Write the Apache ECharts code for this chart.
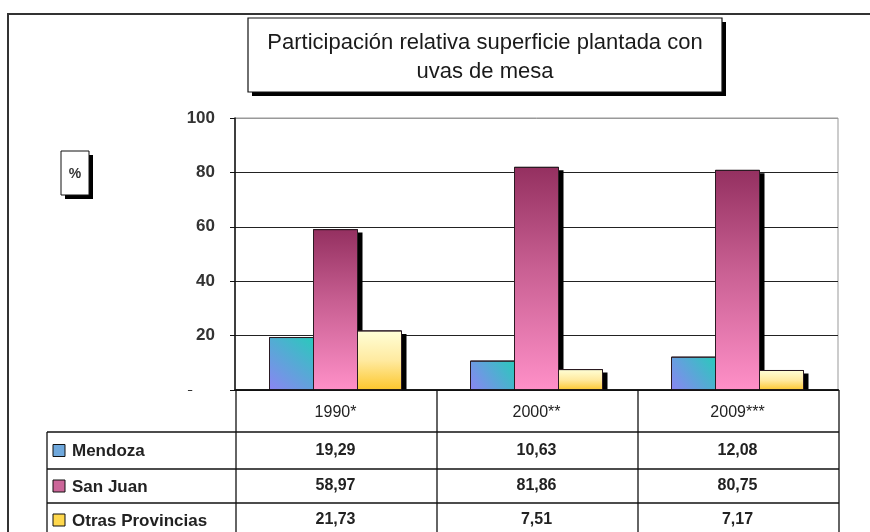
<!DOCTYPE html>
<html>
<head>
    <meta charset="UTF-8">
    <title>Participación relativa superficie plantada con uvas de mesa</title>
    <script src="https://cdn.jsdelivr.net/npm/echarts@6/dist/echarts.min.js"></script>
    <style>
        html, body { margin: 0; padding: 0; background: #fff; }
        #main { width: 870px; height: 532px; }
    </style>
</head>
<body>
<div id="main"></div>
<script type="text/javascript">
    // datos
    var years = ['1990*', '2000**', '2009***'];
    var seriesNames = ['Mendoza', 'San Juan', 'Otras Provincias'];
    var mendoza = [19.29, 10.63, 12.08];
    var sanJuan = [58.97, 81.86, 80.75];
    var otras = [21.73, 7.51, 7.17];
    var yTicks = [0, 20, 40, 60, 80, 100];

    var values = [mendoza, sanJuan, otras];
    var swatch = ['#6fa8dc', '#cc6699', '#ffd84d'];
    var fills = [
        new echarts.graphic.LinearGradient(1, 0, 0, 1, [
            {offset: 0, color: '#28cabb'}, {offset: 1, color: '#8c84f4'}]),
        new echarts.graphic.LinearGradient(0, 0, 0, 1, [
            {offset: 0, color: '#943060'}, {offset: 0.45, color: '#c85f92'}, {offset: 1, color: '#ff90c8'}]),
        new echarts.graphic.LinearGradient(0, 0, 0, 1, [
            {offset: 0, color: '#ffffd8'}, {offset: 0.5, color: '#ffeaa0'}, {offset: 1, color: '#fcc62a'}])
    ];

    var font = '"Liberation Sans", Arial, sans-serif';
    var barW = 44;
    var chart = echarts.init(document.getElementById('main'));

    // barra con sombra negra desplazada
    function barRenderer(idx) {
        return function (params, api) {
            var cat = api.value(0);
            var top = api.coord([cat, api.value(1)]);
            var base = api.coord([cat, 0]);
            var x = top[0] + (idx - 1.5) * barW;
            var h = base[1] - top[1];
            return {
                type: 'group',
                children: [
                    {type: 'rect', shape: {x: x + 5, y: top[1] + 3, width: barW, height: h - 3},
                        style: {fill: '#000'}},
                    {type: 'rect', shape: {x: x, y: top[1], width: barW, height: h},
                        style: {fill: fills[idx], stroke: '#2a1a22', lineWidth: 1}}
                ]
            };
        };
    }

    var series = [];
    for (var i = 0; i < seriesNames.length; i++) {
        var d = [];
        for (var j = 0; j < years.length; j++) d.push([j, values[i][j]]);
        series.push({
            name: seriesNames[i],
            type: 'custom',
            renderItem: barRenderer(i),
            encode: {x: 0, y: 1},
            data: d,
            z: 2
        });
    }

    chart.setOption({
        animation: false,
        grid: {left: 235, right: 32, top: 118, bottom: 142, show: true, borderColor: '#999', borderWidth: 1},
        xAxis: {
            type: 'category',
            data: years,
            axisLine: {lineStyle: {color: '#111', width: 1.5}},
            axisTick: {show: false},
            axisLabel: {show: false}
        },
        yAxis: {
            type: 'value',
            min: yTicks[0],
            max: yTicks[yTicks.length - 1],
            interval: 20,
            axisLine: {show: true, lineStyle: {color: '#111', width: 1.5}},
            axisTick: {show: true, length: 5, lineStyle: {color: '#111'}},
            splitLine: {lineStyle: {color: ['#222', '#222', '#222', '#222', '#222', '#999'], width: 1}},
            axisLabel: {
                margin: 20,
                color: '#333',
                fontFamily: font,
                fontWeight: 'bold',
                fontSize: 17,
                formatter: function (v) { return v === 0 ? '{dash|-}' : v; },
                rich: {
                    dash: {padding: [0, 22, 0, 0], color: '#333', fontFamily: font, fontWeight: 'bold', fontSize: 17}
                }
            }
        },
        series: series
    });

    // tabla de datos y cuadros de texto
    var colEdges = [236, 437, 638, 839];
    var rowEdges = [390, 432, 469, 503, 537];
    var g = [];
    // marco exterior
    g.push({type: 'polyline', shape: {points: [[8, 532], [8, 14], [870, 14]]},
        style: {stroke: '#333', lineWidth: 2, fill: null}, z: 50});
    // titulo
    g.push({type: 'rect', shape: {x: 252, y: 22, width: 474, height: 74}, style: {fill: '#000'}, z: 49});
    g.push({type: 'rect', shape: {x: 248, y: 18, width: 474, height: 74},
        style: {fill: '#fff', stroke: '#111', lineWidth: 1.2}, z: 50});
    g.push({type: 'text', x: 485, y: 57, z: 51,
        style: {text: 'Participación relativa superficie plantada con\nuvas de mesa', font: '22px ' + font,
            fill: '#1a1a1a', align: 'center', verticalAlign: 'middle', lineHeight: 29}});
    // cuadro %
    g.push({type: 'rect', shape: {x: 65, y: 155, width: 28, height: 44}, style: {fill: '#000'}, z: 49});
    g.push({type: 'rect', shape: {x: 61, y: 151, width: 28, height: 44},
        style: {fill: '#fff', stroke: '#111', lineWidth: 1}, z: 50});
    g.push({type: 'text', x: 75, y: 174, z: 51,
        style: {text: '%', font: 'bold 14px ' + font, fill: '#333', align: 'center', verticalAlign: 'middle'}});
    // fondo blanco de la tabla
    g.push({type: 'rect', shape: {x: 40, y: 391, width: 830, height: 141}, style: {fill: '#fff'}, z: 40});
    // lineas de la tabla
    for (var c = 0; c < colEdges.length; c++) {
        g.push({type: 'line', shape: {x1: colEdges[c], y1: rowEdges[0], x2: colEdges[c], y2: 532},
            style: {stroke: '#111', lineWidth: 1.3}, z: 45});
    }
    g.push({type: 'line', shape: {x1: 47, y1: rowEdges[1], x2: 47, y2: 532}, style: {stroke: '#111', lineWidth: 1.3}, z: 45});
    for (var r = 1; r < rowEdges.length; r++) {
        g.push({type: 'line', shape: {x1: 47, y1: rowEdges[r], x2: colEdges[3], y2: rowEdges[r]},
            style: {stroke: '#111', lineWidth: 1.3}, z: 45});
    }
    g.push({type: 'line', shape: {x1: colEdges[0], y1: rowEdges[0], x2: colEdges[3], y2: rowEdges[0]},
        style: {stroke: '#111', lineWidth: 1.5}, z: 45});
    // encabezados y valores
    for (var k = 0; k < years.length; k++) {
        var cx = chart.convertToPixel({xAxisIndex: 0}, years[k]);
        g.push({type: 'text', x: cx, y: 413, z: 46,
            style: {text: years[k], font: '16px ' + font, fill: '#222', align: 'center', verticalAlign: 'middle'}});
        for (var s = 0; s < seriesNames.length; s++) {
            g.push({type: 'text', x: cx, y: (rowEdges[s + 1] + rowEdges[s + 2]) / 2, z: 46,
                style: {text: values[s][k].toFixed(2).replace('.', ','), font: 'bold 16px ' + font,
                    fill: '#222', align: 'center', verticalAlign: 'middle'}});
        }
    }
    // leyenda de filas
    for (var s2 = 0; s2 < seriesNames.length; s2++) {
        var my = (rowEdges[s2 + 1] + rowEdges[s2 + 2]) / 2;
        g.push({type: 'rect', shape: {x: 53, y: my - 6, width: 12, height: 12},
            style: {fill: swatch[s2], stroke: '#111', lineWidth: 1}, z: 46});
        g.push({type: 'text', x: 72, y: my + 1, z: 46,
            style: {text: seriesNames[s2], font: 'bold 17px ' + font, fill: '#222', align: 'left', verticalAlign: 'middle'}});
    }
    chart.setOption({graphic: g});
</script>
</body>
</html>
